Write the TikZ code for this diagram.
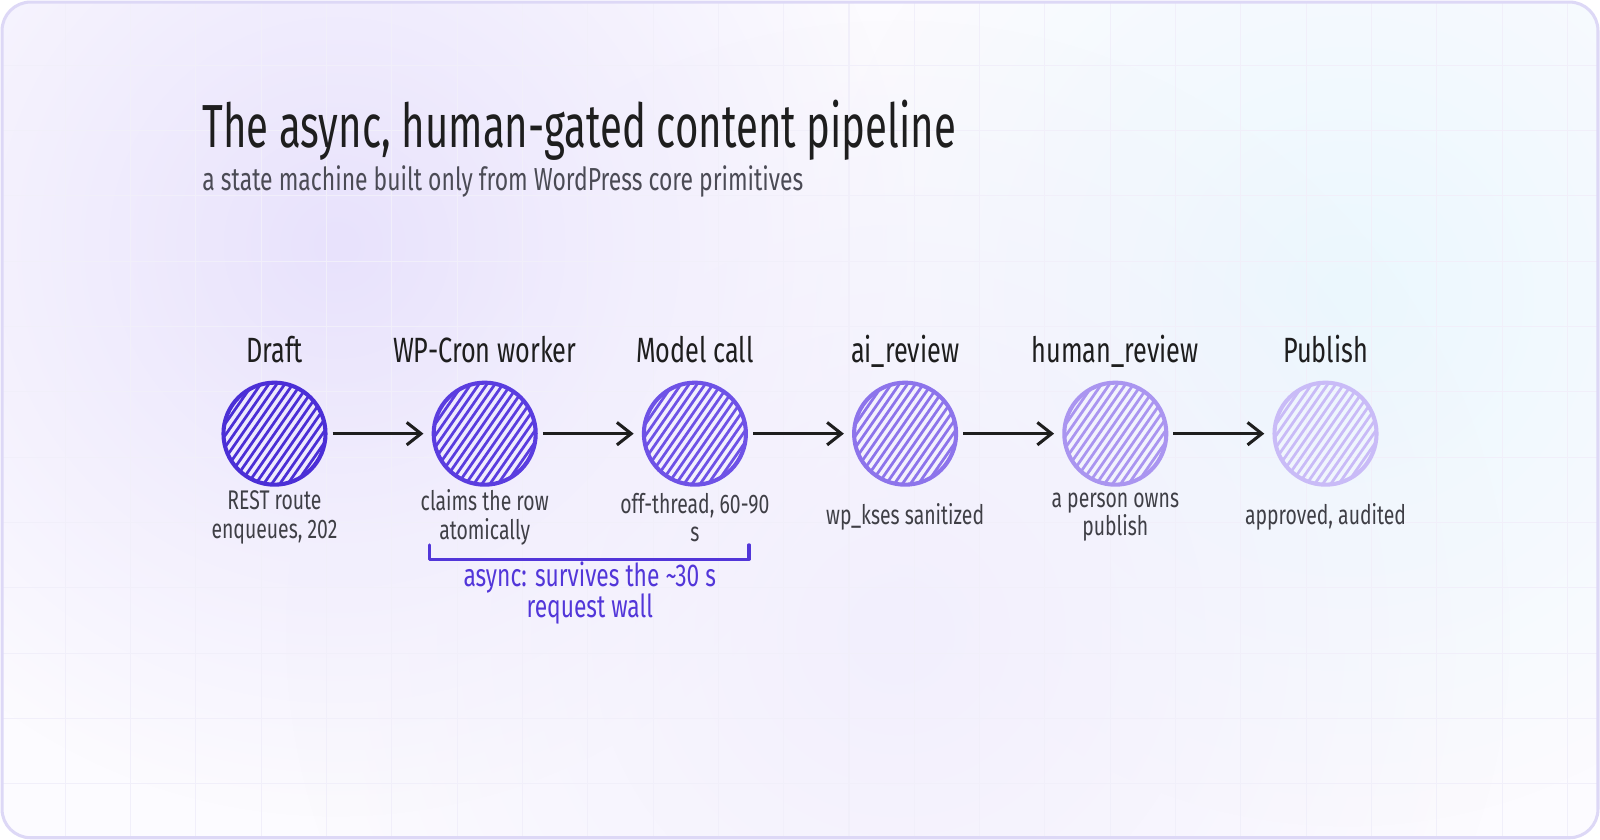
\documentclass[tikz,border=0pt]{standalone}
\usepackage{fontspec}
\newfontfamily\hand[FakeStretch=0.72]{Fira Sans}
\newfontfamily\handtitle[FakeStretch=0.66]{Fira Sans}
\usepackage{tikz}
\usetikzlibrary{calc,arrows.meta,positioning,fadings}
\definecolor{ink}{HTML}{1E1E1E}
\definecolor{notegray}{HTML}{3F3F46}
\definecolor{subgray}{HTML}{4B4B55}
\definecolor{framec}{HTML}{DDD8F6}
\definecolor{paper}{HTML}{FCFBFF}
\definecolor{gridc}{HTML}{F1EFFA}
\definecolor{braceink}{HTML}{5236D9}
\definecolor{stA}{HTML}{4B2FD6}
\definecolor{stB}{HTML}{5A3DDF}
\definecolor{stC}{HTML}{6E52E6}
\definecolor{stD}{HTML}{8D74EB}
\definecolor{stE}{HTML}{AA95F0}
\definecolor{stF}{HTML}{C9BBF7}
\tikzfading[name=blob,inner color=transparent!0,outer color=transparent!100]
\tikzset{
  state/.style={circle,draw=#1,line width=2pt,minimum size=50pt,inner sep=0pt,
    path picture={
      \foreach \k in {-9,...,9}
        \draw[#1,line width=1.35pt]
          ($(path picture bounding box.center)+(\k*5.3-34,\k*3.7+49)$) -- ++(68,-98);
    }},
  stlabel/.style={anchor=base,text=ink,font=\hand\fontsize{17.2}{21}\selectfont},
  stnote/.style={align=center,text=notegray,font=\hand\fontsize{13.2}{13.8}\selectfont},
  gridline/.style={gridc,line width=0.5pt}
}
\tikzstyle{flow} = [ink,line width=1.5pt,-{Straight Barb[length=7pt,width=11pt]},
  shorten <=2.5pt,shorten >=4pt]

\begin{document}
\begin{tikzpicture}[x=0.5pt,y=-0.5pt]
  \useasboundingbox (0,0) rectangle (1568,823);
  % card
  \fill[paper,rounded corners=14pt] (2,2) rectangle (1566,821);
  \begin{scope}
    \clip[rounded corners=14pt] (2,2) rectangle (1566,821);
    \fill[stF!42,path fading=blob] (330,240) circle (560);
    \fill[cyan!8,path fading=blob] (1320,290) circle (520);
    \fill[stF!24,path fading=blob] (880,620) circle (600);
    \foreach \x in {64,128,...,1536}
      \draw[gridline] (\x,0) -- (\x,823);
    \foreach \y in {64,128,...,800}
      \draw[gridline] (0,\y) -- (1568,\y);
  \end{scope}
  \draw[framec,line width=1.5pt,rounded corners=14pt] (2,2) rectangle (1566,821);

  % heading
  \node[anchor=base west,inner sep=0pt,text=ink,font=\handtitle\fontsize{29.8}{35}\selectfont]
    (title) at (198,145) {The async, human-gated content pipeline};
  \node[anchor=base west,inner sep=0pt,text=subgray,font=\hand\fontsize{15.6}{18}\selectfont]
    (subtitle) at (198,187) {a state machine built only from WordPress core primitives};

  % states
  \foreach \n/\x/\c/\t/\d in {
      draft/269/stA/Draft/{REST route\\enqueues, 202},
      cron/475/stB/WP-Cron worker/{claims the row\\atomically},
      model/681/stC/Model call/{off-thread, 60-90\\s},
      aireview/887/stD/ai\_review/{wp\_kses sanitized},
      humanreview/1093/stE/human\_review/{a person owns\\publish},
      publish/1299/stF/Publish/{approved, audited}} {
    \node[state=\c] (\n) at (\x,425) {};
    \node[stlabel] (\n-label) at (\x,355) {\t};
    \node[stnote] (\n-note) at (\x,507) {\d};
  }

  % transitions
  \foreach \a/\b in {draft/cron,cron/model,model/aireview,aireview/humanreview,humanreview/publish}
    \draw[flow] (\a) -- (\b);

  % async bracket
  \coordinate (bl) at (421,548);
  \coordinate (br) at (734,548);
  \draw[braceink,line width=1.6pt,line cap=round,line join=round]
    ($(bl)+(0,-14)$) -- (bl) -- (br) -- ++(0,-14);
  \node[align=center,text=braceink,font=\hand\fontsize{15.5}{15.5}\selectfont]
    (asyncnote) at (578,581) {async: survives the \textasciitilde30 s\\request wall};
\end{tikzpicture}
\end{document}
